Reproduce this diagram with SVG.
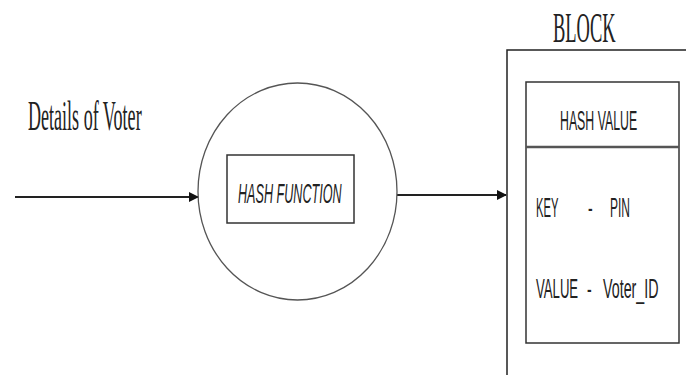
<svg xmlns="http://www.w3.org/2000/svg" width="686" height="378" viewBox="0 0 686 378">
<defs>
<marker id="ah" markerWidth="10" markerHeight="10" refX="9" refY="5" orient="auto" markerUnits="userSpaceOnUse">
<path d="M0,0 L10,5 L0,10 Z" fill="#111"/>
</marker>
<style>
.serif{font-family:"Liberation Serif","Times New Roman",serif;fill:#222;font-size:42px}
.sans{font-family:"Liberation Sans",Arial,sans-serif;fill:#222;font-size:28px}
.line{stroke:#222;fill:none}
</style>
</defs>
<rect width="686" height="378" fill="#fff"/>
<g id="connectors">
<line class="line" x1="15" y1="197" x2="198" y2="197" stroke-width="2" marker-end="url(#ah)"/>
<line class="line" x1="397" y1="195" x2="506" y2="195" stroke-width="2" marker-end="url(#ah)"/>
</g>
<g id="input-label">
<text class="serif" transform="translate(28,130) scale(0.43,1)">Details of Voter</text>
</g>
<g id="hash-function">
<ellipse cx="297.5" cy="191.5" rx="99.5" ry="108.5" fill="none" stroke="#555" stroke-width="1.3"/>
<rect x="227" y="155" width="127" height="68" fill="none" stroke="#333" stroke-width="1.5"/>
<text class="sans" font-style="italic" transform="translate(238,203) scale(0.45,1)">HASH FUNCTION</text>
</g>
<g id="block">
<text class="serif" transform="translate(553,42) scale(0.44,1)">BLOCK</text>
<path class="line" d="M507,375 V50 H686" stroke-width="1.5"/>
<rect x="526" y="82" width="153" height="261" fill="none" stroke="#333" stroke-width="1.5"/>
<line x1="526" y1="147" x2="679" y2="147" stroke="#555" stroke-width="2.5"/>
<text class="sans" transform="translate(560,130) scale(0.44,1)">HASH VALUE</text>
<text class="sans" transform="translate(536,217) scale(0.4,1)">KEY</text>
<text class="sans" transform="translate(588,217) scale(0.5,1)">-</text>
<text class="sans" transform="translate(610,217) scale(0.43,1)">PIN</text>
<text class="sans" transform="translate(536,298) scale(0.47,1)">VALUE</text>
<text class="sans" transform="translate(587,298) scale(0.5,1)">-</text>
<text class="sans" transform="translate(603,298) scale(0.51,1)">Voter_ID</text>
</g>
</svg>
